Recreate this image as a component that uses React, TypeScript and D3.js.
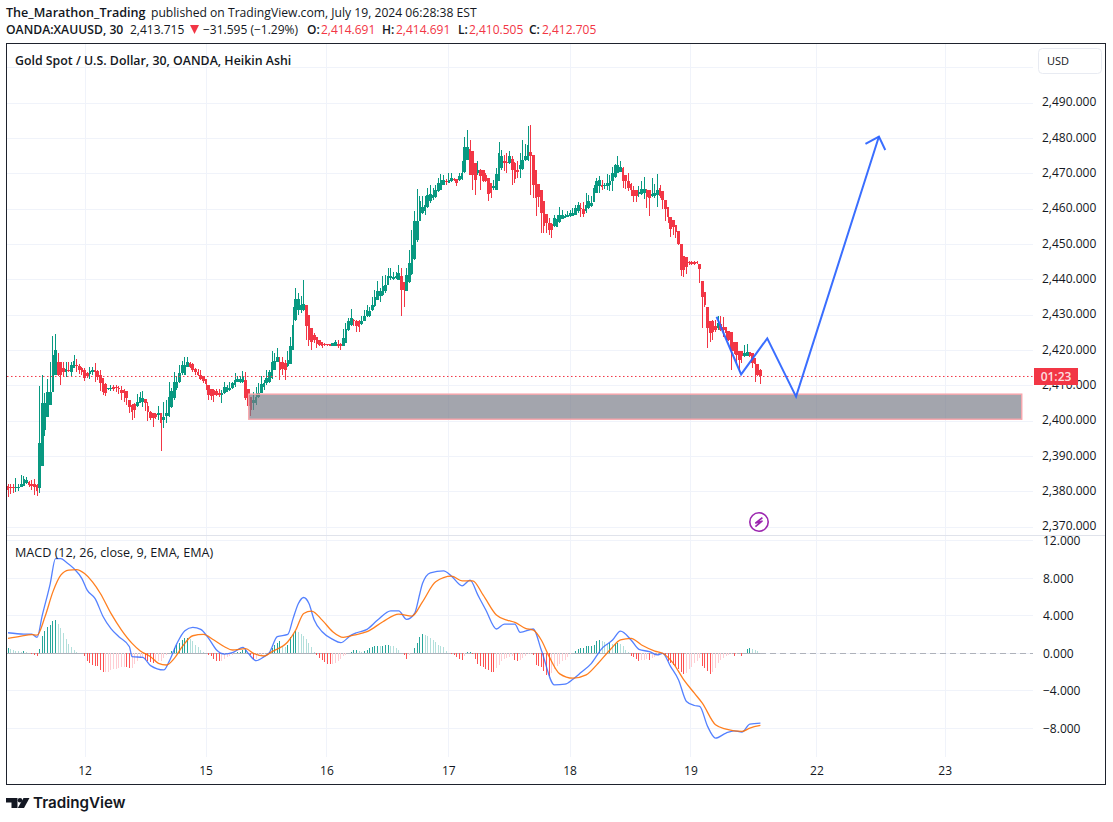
import React from "react";
import * as d3 from "d3";

type Bar = [number, number, number, number]; // open, high, low, close

const session11: Bar[] = [
[2381.4,2381.9,2378.3,2380.2],[2380.9,2381.9,2379.0,2380.7],[2380.9,2381.9,2379.2,2380.7],[2380.8,2383.7,2379.7,2381.1],[2380.8,2382,2379.9,2381],[2381.1,2384.4,2381.1,2382],[2381.4,2384.1,2381.4,2383.2],[2382.2,2383.9,2382,2383],[2382.5,2382.8,2381.1,2381.6],[2382,2383,2380.2,2381.4],[2381.9,2383.2,2378.7,2381.1],[2381.6,2382,2378.5,2379.9],
[2380.6,2409.6,2379.2,2393.4],[2387,2412.7,2387,2404.7],[2397.1,2407.5,2395.4,2404.7],[2400.9,2411.5,2400.9,2408],[2404.2,2416.5,2404.2,2408],[2408,2423.8,2408,2418.4],[2412.7,2424.3,2412.7,2419.8],[2416.3,2418.9,2412.3,2412.7],[2416.3,2416.5,2409.9,2412.7],[2414.6,2416.5,2412.1,2413.7],[2413.7,2416.5,2412.1,2414.3],[2414.1,2416.5,2413.7,2413.9],[2413.7,2416.5,2412.4,2415.6],[2414.6,2418.4,2414.6,2416.7],[2415.6,2417.2,2413.7,2415.3],[2415.3,2415.8,2413,2414.1],[2414.8,2415.1,2412.7,2413.7],
];
const session12: Bar[] = [
[2414.1,2414.6,2411,2412],[2413.2,2413.7,2411.8,2412.3],[2412.9,2415.1,2411.5,2413.9],[2413.5,2415.1,2412.7,2414],[2414,2416.2,2410.8,2413.5],[2413.9,2414.1,2411.3,2412.1],[2412.7,2414.1,2408.2,2410.4],[2411.8,2411.8,2407.1,2408],[2410.2,2410.4,2406.8,2407.7],[2408.7,2409,2408.5,2408.9],[2408.7,2409.9,2408.3,2408.9],[2409.2,2409.8,2408.1,2408.7],[2409.2,2409.9,2408,2408.9],[2409,2409.6,2407.3,2408.7],[2408.5,2409.6,2405.6,2407.7],[2408.5,2408.7,2405.2,2407.5],[2408.1,2408.3,2404.2,2406.1],[2405.6,2405.6,2401.9,2403.6],[2404.2,2404.5,2400,2402.3],[2404.4,2404.7,2400.5,2402.8],[2403.9,2407.3,2403.8,2405.2],[2404.9,2408,2404.7,2406.4],[2405.2,2408.2,2403.8,2406.1],[2405.8,2405.8,2402.6,2404.7],[2403.9,2405.2,2399.7,2402.3],[2402.3,2402.6,2400,2400.5],[2401.9,2402.1,2398.1,2400.6],[2401.6,2401.9,2400.3,2400.9],[2401.4,2403.9,2400,2401.9],[2401.9,2401.9,2391.2,2399],[2400,2405.2,2397.6,2400.9],[2401.1,2405.6,2399,2402.1],[2401.1,2410.7,2400.9,2406.4],[2403.6,2408.9,2403.3,2408.3],[2406.1,2413.7,2405.6,2410.8],[2408.9,2412.3,2408.5,2410.8],[2410.8,2415.6,2410.4,2413.2],[2413.2,2416.8,2412.7,2415.6],[2412.7,2417.9,2412.7,2415.6],[2415.1,2417.9,2415.1,2416.3],[2416,2416.5,2414.6,2415.1],[2415.7,2416,2413.7,2414.1],[2414.3,2414.6,2412.7,2413.7],[2413.7,2414.3,2412.3,2412.7],[2412.7,2414.1,2411.3,2411.5],[2412.3,2412.4,2410.4,2411.1],
];
const session15: Bar[] = [
[2411.5,2411.5,2408.5,2410.2],[2409.9,2409.9,2405.6,2407.1],[2408.7,2408.7,2405.6,2406.8],[2408.5,2408.7,2405.2,2407.1],[2408.3,2408.7,2406.8,2407],[2407.7,2408.7,2406.6,2407.1],[2407,2408.5,2404.9,2407.7],[2407.5,2410.6,2407.3,2409.2],[2408,2409.9,2408,2409.2],[2408.5,2410.6,2408.3,2409],[2408.9,2410.8,2408.7,2410.4],[2409.9,2413.4,2409.4,2411.3],[2410.7,2412.3,2410.6,2411.5],[2410.8,2412.3,2410.4,2411.5],[2410.8,2413.9,2410.4,2412.3],[2411.3,2413.7,2405.6,2406.1],[2408.7,2408.7,2402.8,2403.9],[2406.4,2406.6,2401.1,2402.8],[2404.7,2408,2402.8,2405.6],[2404.7,2409.4,2404.2,2406.6],[2406.4,2410.4,2406.1,2407.7],[2407.7,2412.4,2407.5,2410.2],[2409.4,2411.3,2408.5,2410.4],[2410.4,2414.1,2409.9,2411.8],[2410.6,2414.1,2410.4,2413.7],[2411.8,2419.6,2411.5,2416.5],[2414.1,2418.9,2414.1,2416.8],[2416.5,2420.3,2416.5,2417.7],[2416.5,2417.9,2411.3,2414.1],[2416.5,2417.9,2412.7,2414.3],[2416,2417,2411.3,2414.1],[2415.3,2419.4,2415,2417],[2415.8,2423.6,2415.8,2420.8],[2419.9,2432.1,2419.9,2426.9],[2428.4,2437.3,2428.1,2434.2],[2431,2435.9,2429.8,2434.2],[2431,2435,2430.4,2432.6],[2431.2,2439.7,2430.7,2432.8],[2432.6,2432.6,2422.7,2426.7],[2429.8,2429.8,2420.8,2422.7],[2426,2426,2419.9,2422.2],[2424.1,2424.6,2421.8,2422.7],[2423.5,2423.5,2420.3,2421.6],[2422.5,2422.7,2420.8,2421.3],[2422.2,2422.2,2420.5,2421],[2421.5,2421.9,2421,2421.3],
];
const session16: Bar[] = [
[2421.5,2421.6,2421,2421.2],[2421.5,2421.5,2420.8,2420.8],[2421,2421.9,2420.8,2421.7],[2421,2422.7,2420.8,2422.2],[2421.5,2422.7,2420.3,2421],[2421.5,2421.9,2419.9,2421],[2420.8,2425.7,2420.8,2423.1],[2421.9,2427.4,2421.9,2425.7],[2425.5,2428.8,2425.3,2427.9],[2426.9,2431.4,2426.6,2428.8],[2428.4,2428.5,2426.5,2427.9],[2428.1,2428.4,2425,2426.6],[2427.9,2428.4,2424.8,2426.3],[2427.1,2429.3,2426.9,2428.1],[2428.1,2431.2,2427.9,2429.5],[2429.3,2432.6,2429.1,2431],[2429.3,2432.1,2429.1,2430.7],[2431,2434.7,2430.7,2432.6],[2432.3,2436.8,2431.9,2434.7],[2434,2439.2,2434,2436.4],[2435,2437.3,2433.5,2436.6],[2435.4,2440.6,2435,2438],[2436.4,2441.1,2435.9,2438.2],[2438.2,2443,2438.2,2440.8],[2440.1,2443,2439.7,2440.8],[2439.9,2442,2439.7,2440.4],[2440.1,2441.8,2439.9,2440.6],[2439.7,2443.9,2439.7,2441.6],[2440.8,2443,2429.3,2436.8],[2439,2439,2431.9,2436.8],[2436.6,2443,2436.4,2441.1],[2438.9,2448,2438.7,2444.4],[2441.4,2453.8,2441.1,2449.6],[2445.5,2459,2445.3,2456.4],[2450.8,2465.3,2450.5,2456.4],[2456.2,2463.5,2456.2,2461.9],[2458.7,2463.3,2458.4,2460.4],[2459,2463.5,2458.1,2460.9],[2460.2,2465.6,2460,2463.7],[2461.9,2466.6,2461.4,2464],[2462.8,2465.6,2462.3,2463.7],[2463,2466.6,2462.8,2465.2],[2464.7,2468.5,2464.5,2467],[2465.2,2469.7,2465,2468],[2466.6,2469.4,2466.4,2468],[2467.7,2468.2,2466.6,2467.3],
];
const session17: Bar[] = [
[2467.2,2469.9,2467,2468],[2467.5,2469.9,2467.3,2468.5],[2468.2,2468.5,2467.5,2467.8],[2468.2,2468.2,2466.1,2467.2],[2468,2469.9,2467.5,2469.1],[2468.1,2473.2,2467.8,2470],[2470.1,2480.1,2469.9,2477.2],[2473.7,2482.1,2473.7,2477.2],[2476.7,2479.3,2469.4,2469.4],[2476.2,2476.2,2465,2469.4],[2472.7,2472.7,2463.7,2468],[2469.9,2473.2,2469.4,2470.8],[2470.8,2471,2465.2,2469.1],[2470.6,2470.8,2467.3,2467.5],[2469.4,2469.9,2467.3,2467.5],[2468.5,2468.5,2461.9,2464],[2467,2467,2462.8,2464.2],[2465.6,2467.8,2465.2,2466.1],[2465.2,2471.3,2465.2,2469.7],[2467.5,2478.6,2467.5,2475.5],[2471.3,2476.5,2470.8,2474.6],[2473.2,2475.1,2470.4,2472.7],[2473,2475.5,2469.9,2472.7],[2472.7,2476,2472.5,2474.8],[2473.8,2474.8,2466.6,2470.8],[2472.7,2472.9,2467,2468.2],[2470.8,2473.2,2468.5,2470.3],[2471,2475.5,2468.5,2472.2],[2471.1,2479.3,2470.8,2473.7],[2473.5,2478.2,2473.2,2474.8],[2473.5,2483.3,2473.2,2477.9],[2475.7,2483.6,2463.7,2474.6],[2475.1,2475.1,2462.8,2466.6],[2470.8,2470.8,2457.8,2462.8],[2466.9,2466.9,2460.2,2463.1],[2465.2,2465.2,2452.9,2458.5],[2462,2462,2453,2454.8],[2458.4,2458.4,2452.9,2455.7],[2455.7,2457.1,2452.4,2453.8],[2455.5,2455.7,2451.5,2453.8],[2454.8,2458.1,2454.6,2457.1],[2454.6,2458.1,2454.6,2456.8],[2455.9,2460.4,2455.7,2458.1],[2456.8,2459.5,2456.8,2458.1],[2457.1,2458.3,2457.1,2457.8],[2457.4,2459,2457.4,2458.1],
];
const session18: Bar[] = [
[2457.6,2459.5,2457.4,2458.5],[2457.8,2459.9,2457.6,2458.7],[2458.1,2460.9,2458.1,2460],[2459,2461.8,2458.7,2460.9],[2460,2461.4,2457.4,2459.7],[2459.8,2461.8,2457.4,2458.3],[2459,2464.2,2458.7,2460.9],[2459.9,2463.7,2459.8,2462],[2460.6,2463.3,2460.4,2461.5],[2461.8,2466.6,2461.6,2465.6],[2464.2,2468.4,2464.2,2467.5],[2466.1,2468.9,2464.2,2467.8],[2466.6,2468,2465,2465.9],[2466.1,2467.2,2465.3,2466.6],[2466.1,2469.7,2465.1,2467.2],[2466.6,2469.4,2464.9,2467.5],[2467.5,2471.7,2464.7,2469.9],[2468.7,2472.5,2468.6,2472.2],[2470,2474.8,2469.9,2472.2],[2470.3,2473.4,2470.3,2471.7],[2471.3,2471.5,2465.6,2467.5],[2469.4,2469.4,2465.3,2467.5],[2467.5,2469.9,2464.7,2465.6],[2466.8,2467,2463.3,2465.1],[2465.1,2466.1,2461.6,2463.5],[2465.1,2465.1,2461.8,2463.5],[2464,2466.1,2463.1,2464.4],[2464,2467.5,2463.7,2465.3],[2464.2,2468.7,2462.5,2465.3],[2465.1,2465.3,2460,2463.1],[2465.1,2465.1,2457.6,2462.8],[2463.3,2468.4,2463.1,2464],[2463.4,2466.8,2462.8,2464.2],[2463.7,2469.6,2460.4,2465.1],[2465.6,2466.6,2462.8,2463.3],[2464.7,2464.7,2459.7,2462.3],[2462.3,2462.3,2456.2,2459.7],[2460.2,2460.4,2455.7,2457.4],[2457.4,2457.4,2451.7,2454],[2456.6,2456.6,2452.4,2454.6],[2455.2,2455.2,2451.4,2453.3],[2453.6,2453.6,2449.6,2449.8],[2449.8,2449.8,2440.8,2442.3],[2446.3,2446.3,2440.4,2442.3],[2446,2446,2441.3,2443.4],[2444.7,2445,2443.8,2444.4],
];
const session19: Bar[] = [
[2444.7,2444.9,2443.9,2444.2],[2444.6,2445.1,2443.8,2444.2],[2444.6,2444.9,2444.1,2444.3],[2444.2,2444.2,2438.7,2442.7],[2439.2,2439.2,2426,2434.9],[2436.2,2436.2,2432,2432.6],[2431.9,2431.9,2420.3,2426],[2428.1,2428.1,2422.2,2424.5],[2427.9,2428.3,2422.7,2425],[2426.6,2428.3,2424.9,2425.5],[2426,2429.5,2425.5,2427.4],[2427.2,2429.3,2425.3,2425.5],[2426.4,2429.1,2423.6,2425.5],[2426.2,2426.4,2422.7,2424.7],[2425.3,2425.3,2422.3,2422.7],[2425,2425,2414.2,2419.4],[2422.2,2422.2,2418.6,2419.4],[2422.2,2422.2,2416,2418.4],[2419.6,2419.6,2413.7,2417],[2419.6,2419.6,2416,2418],[2418,2421.2,2417.8,2418.9],[2418.1,2421.5,2418,2419.1],[2419.2,2419.2,2417.9,2418.1],[2418.9,2418.9,2414.6,2416],[2417.5,2417.5,2410.6,2415.9],[2415.9,2415.9,2412.5,2412.7],[2414.2,2414.4,2410.2,2412.5],
];

// MACD line (bar number, value)
const macdBarsA = [0,6,9,11,13,16,18,20,22,25,28,30,33,36,39,42,46,47,51,54,59,61,64,67,70,73,76,79,82,85,89,91,94,97,99,102,106,108,110,112,114,116,119,123,126,130,132,136,140,145,148,151,154,156,157,160,165,168,172,175,178,181,185,188,192,194,199,202,207,211,214,217,221,225,229,232,236,239,243,246,248,251,254,257,260,262,265,268,272,275,278,281,285];
const macdValues = [2.16,2.02,2.02,1.67,4.04,7.41,10.07,10.07,9.7,9,7.94,6.7,5.8,3.9,2.6,1.74,0.67,-0.39,-0.46,-1.35,-1.81,-0.92,1.03,2.37,2.73,2.52,1.56,0.32,-0.11,0.03,0.6,-0.04,-0.82,-0.39,0.03,1.74,1.98,3.69,5.28,5.92,5.28,3.51,2.27,1.45,1.1,1.91,2.16,2.52,3.51,4.5,4.5,3.58,4.22,6.35,7.41,8.55,8.76,8.19,7.17,7.77,6.17,4.58,2.56,3.09,3.09,2.2,2.56,0.32,-3.4,-3.33,-2.8,-2.09,-1.1,0.5,1.39,2.34,1.39,0.39,0.14,-0.21,-0.03,-1.45,-2.87,-5.17,-5.6,-5.7,-7.83,-9.08,-8.54,-8.3,-8.44,-7.59,-7.48];
// Signal line (bar number, value)
const signalBars = [0,5,9,11,14,17,20,23,26,29,32,35,39,43,47,50,54,57,60,63,66,70,74,78,82,85,90,93,97,100,106,109,112,115,119,123,127,131,136,142,148,153,157,162,168,172,176,180,185,189,192,196,199,202,205,209,214,219,223,228,232,236,240,245,248,252,256,260,263,268,272,278,281,285];
const signalValues = [1.56,1.81,1.95,1.91,3.86,6.52,8.3,8.83,8.9,8.47,7.59,6.35,4.22,2.45,1.03,0.25,-0.39,-1.1,-1.28,-0.57,0.67,1.84,1.98,1.38,0.67,0.32,0.46,-0.04,-0.32,0.14,1.2,2.45,4.22,4.47,3.51,2.27,1.67,1.91,2.27,3.33,4.15,3.94,5.46,7.59,8.19,7.7,7.7,6.17,4.05,3.51,3.27,2.63,2.45,1.39,-0.39,-2.23,-2.69,-2.34,-1.27,0.32,1.39,1.56,0.85,0.21,-0.03,-1.1,-2.87,-4.29,-5.35,-7.66,-8.12,-8.37,-8.01,-7.73];
const histogram = [
0.53,0.43,0.35,0.2,0.18,0.15,0.25,0.1,-0.05,-0.1,-0.2,-0.35,0.43,1.84,2.3,2.77,3,3.44,3.55,3.1,2.66,2.1,1.5,1,0.64,0.35,0.15,0.05,0,-0.3,-0.8,-1.05,-1.25,-1.35,-1.4,-1.85,-2.05,-2.05,-2,-1.85,-1.75,-1.7,-1.6,-1.5,-1.45,-1.5,-1.6,-1.55,-1.15,-0.9,-0.55,-0.45,-0.7,-0.9,-1,-1.05,-1,-0.9,-0.8,-0.5,-0.2,0,0.2,0.53,0.9,1.06,1.4,1.6,1.6,1.5,1.25,0.9,0.64,0.35,0.15,0.05,-0.25,-0.35,-0.65,-0.8,-0.9,-0.8,-0.65,-0.45,-0.3,-0.2,0.05,0.1,0.15,0.3,0.35,0,-0.2,-0.65,-0.65,-0.35,-0.2,-0.1,0,0.1,0.5,0.9,1.1,1.25,0.8,0.65,0.9,1.75,2.05,2.3,2.2,2,1.85,1.5,1.05,0.65,0.07,-0.2,-0.5,-0.7,-0.95,-1.15,-1.2,-1.15,-1.05,-0.9,-0.65,-0.35,-0.2,0,0.15,0.3,0.35,0.2,0.1,0.25,0.35,0.5,0.65,0.8,0.8,0.7,0.8,0.9,0.9,0.8,0.7,0.55,0.35,0,-0.2,-0.6,-0.2,0,0.5,1.05,1.7,2.05,1.9,1.77,1.6,1.4,1.15,0.9,0.8,0.6,0.25,0.05,-0.07,-0.2,-0.45,-0.65,-0.7,-0.35,0.1,0.1,-0.1,-0.65,-1.15,-1.4,-1.5,-1.7,-1.85,-2,-2.05,-1.6,-1.25,-0.8,-0.65,-0.55,-0.45,-0.3,-0.7,-0.8,-0.7,-0.5,-0.35,-0.1,-0.07,-0.2,-1.25,-1.4,-1.5,-1.95,-2.3,-2.5,-2.1,-1.7,-1.4,-1.15,-0.9,-0.7,-0.4,-0.15,0,0.25,0.4,0.5,0.55,0.7,0.7,0.8,0.9,1.25,1.35,1.25,1.15,1,1.05,0.95,0.95,1.05,0.95,0.7,0.35,0.1,-0.3,-0.45,-0.65,-0.8,-0.7,-0.7,-0.65,-0.7,-0.55,-0.4,-0.25,-0.1,-0.1,-0.2,-0.8,-1.05,-1.25,-1.4,-1.75,-2.05,-2.25,-2.1,-1.7,-1.5,-1.05,-0.9,-0.55,-1.4,-1.6,-1.95,-2.2,-2.05,-1.6,-1.05,-0.7,-0.55,-0.35,-0.2,-0.1,-0.3,-0.15,-0.05,-0.3,0.05,0.4,0.5,0.4,0.35,0.25,
];

const priceTicks = [2490,2480,2470,2460,2450,2440,2430,2420,2410,2400,2390,2380,2370];
const priceGridOnly = [2500];
const macdTicks = [12,8,4,0,-4,-8];
const dayBars = [29.2,75,120.8,167,212.9,258.7,306.4,355];
const dayLabels = ["12","15","16","17","18","19","22","23"];
const forecastBars = [268.4,277.7,287.6,298.5,329.9];
const forecastPrices = [2429.5,2413.2,2423.4,2406.9,2480.5];
const arrowBars = [324.8,329.9,332.3];
const arrowPrices = [2478.4,2480.5,2476.7];
const zoneBars = [91.2,384];
const zonePrices = [2407.6,2400.5];
const lastPrice = 2412.6;
const READ_BIAS = 0.3; // my readings of the picture run a third of a dollar low

const RED = "#f23645";
const GREEN = "#089981";
const GRID = "#f0f3fa";
const TEXT = "#131722";
const FONT = "'Open Sans', 'Noto Sans', sans-serif";

const x = d3.scaleLinear().domain([0, 100]).range([8, 272]);
const y = d3.scaleLinear().domain([2400, 2490]).range([421, 103]);
const m = d3.scaleLinear().domain([0, 8]).range([653, 578]);
const bars = [session11, session12, session15, session16, session17, session18, session19].flat();
const fmt = d3.format(",.3f");

const macdPath = d3.line<number>().x((_, i) => x(macdBarsA[i])).y((v) => m(v)).curve(d3.curveMonotoneX)(macdValues)!;
const signalPath = d3.line<number>().x((_, i) => x(signalBars[i])).y((v) => m(v)).curve(d3.curveMonotoneX)(signalValues)!;
const forecastPath = d3.line<number>().x((_, i) => x(forecastBars[i])).y((v) => y(v))(forecastPrices)!;
const arrowPath = d3.line<number>().x((_, i) => x(arrowBars[i])).y((v) => y(v))(arrowPrices)!;

function histColor(v: number, i: number) {
  const p = i > 0 ? histogram[i - 1] : 0;
  if (v >= 0) return v >= p ? "#26a69a" : "#b2dfdb";
  return v < p ? "#ff5252" : "#ffcdd2";
}

export default function App() {
  return (
    <svg width={1113} height={822} style={{ position: "absolute", left: 0, top: 0, background: "#fff" }} fontFamily={FONT}>
      <defs>
        <clipPath id="top"><rect x={7} y={44} width={1026} height={491} /></clipPath>
        <clipPath id="bot"><rect x={7} y={536} width={1026} height={222} /></clipPath>
      </defs>

      {/* header */}
      <g fill={TEXT}>
        <text x={6} y={17} fontSize={12.6} fontWeight={600}>The_Marathon_Trading</text>
        <text x={151} y={17} fontSize={12.15}>published on TradingView.com, July 19, 2024 06:28:38 EST</text>
      </g>
      <g fontSize={12} fill={TEXT}>
        <text x={6} y={34} fontWeight={600} fontSize={12.2}>OANDA:XAUUSD, 30</text>
        <text x={130} y={34}>2,413.715</text>
        <path d="M190,25 h9 l-4.5,9 z" fill={RED} />
        <text x={203} y={34}>−31.595 (−1.29%)</text>
        <text x={307} y={34} fontWeight={600}>O:</text>
        <text x={321} y={34} fill={RED}>2,414.691</text>
        <text x={382} y={34} fontWeight={600}>H:</text>
        <text x={396} y={34} fill={RED}>2,414.691</text>
        <text x={458} y={34} fontWeight={600}>L:</text>
        <text x={469} y={34} fill={RED}>2,410.505</text>
        <text x={529} y={34} fontWeight={600}>C:</text>
        <text x={542} y={34} fill={RED}>2,412.705</text>
      </g>

      {/* grids */}
      <g stroke={GRID} strokeWidth={1} shapeRendering="crispEdges">
        {dayBars.map((b) => <line key={b} x1={x(b)} x2={x(b)} y1={44} y2={757} />)}
        {[...priceGridOnly, ...priceTicks].map((p) => <line key={p} x1={7} x2={1033} y1={y(p)} y2={y(p)} />)}
        {macdTicks.map((t) => <line key={t} x1={7} x2={1033} y1={m(t)} y2={m(t)} />)}
      </g>
      <line x1={7} x2={1106} y1={535.5} y2={535.5} stroke="#e0e3eb" />

      {/* candles */}
      <g clipPath="url(#top)" shapeRendering="crispEdges">
        {bars.map(([o, h, l, c], i) => {
          const X = x(i);
          const col = c >= o ? GREEN : RED;
          const yo = y(o + READ_BIAS), yc = y(c + READ_BIAS);
          const left = Math.round(X - 1.32);
          const top = Math.round(Math.min(yo, yc));
          return (
            <g key={i} fill={col}>
              <rect x={Math.round(X - 0.5)} width={1} y={y(h + READ_BIAS)} height={Math.max(1, y(l + READ_BIAS) - y(h + READ_BIAS))} />
              <rect x={left} width={Math.round(X + 1.32) - left} y={top} height={Math.max(1, Math.round(Math.max(yo, yc)) - top)} />
            </g>
          );
        })}
      </g>

      {/* price line */}
      <line x1={7} x2={1034} y1={y(lastPrice)} y2={y(lastPrice)} stroke={RED} strokeWidth={1} strokeDasharray="1.5 2.5" />

      {/* zone */}
      <rect x={x(zoneBars[0])} y={y(zonePrices[0])} width={x(zoneBars[1]) - x(zoneBars[0])} height={y(zonePrices[1]) - y(zonePrices[0])}
        fill="#787b86" fillOpacity={0.68} stroke="#f9a6ac" strokeWidth={1.4} />

      {/* forecast */}
      <path d={forecastPath} fill="none" stroke="#2962ff" strokeWidth={2} opacity={0.92} />
      <path d={arrowPath} fill="none" stroke="#2962ff" strokeWidth={2} opacity={0.92} />

      {/* icon */}
      <circle cx={759} cy={522} r={9.2} fill="#fff" stroke="#9c27b0" strokeWidth={1.6} />
      <path d="M762.4,517.6 L755.8,523 L762,521.2 L755.4,526.6" fill="none" stroke="#9c27b0" strokeWidth={1.7} strokeLinejoin="round" />

      {/* MACD */}
      <g clipPath="url(#bot)">
        <line x1={x(285)} x2={1033} y1={m(0)} y2={m(0)} stroke="#787b86" strokeOpacity={0.55} strokeDasharray="6 4" shapeRendering="crispEdges" />
        <line x1={7} x2={x(285)} y1={m(0)} y2={m(0)} stroke="#787b86" strokeOpacity={0.55} shapeRendering="crispEdges" />
        <g shapeRendering="crispEdges">
          {histogram.map((v, i) => (
            <rect key={i} x={Math.round(x(i) - 0.5)} width={1} y={Math.min(m(v), m(0))} height={Math.abs(m(v) - m(0))} fill={histColor(v, i)} />
          ))}
        </g>
        <path d={macdPath} fill="none" stroke="#2962ff" strokeWidth={1.3} opacity={0.8} />
        <path d={signalPath} fill="none" stroke="#ff6d00" strokeWidth={1.3} opacity={0.88} />
      </g>

      {/* legends */}
      <text x={15} y={65} fontSize={12.35} fontWeight={600} fill={TEXT}>Gold Spot / U.S. Dollar, 30, OANDA, Heikin Ashi</text>
      <text x={15} y={557} fontSize={12.6} fill={TEXT}>MACD (12, 26, close, 9, EMA, EMA)</text>

      {/* axes */}
      <g fontSize={12} fill={TEXT}>
        {priceTicks.map((p) => <text key={p} x={1042} y={y(p) + 3.2}>{fmt(p)}</text>)}
        {macdTicks.map((t) => <text key={t} x={1043} y={m(t) + 4.5}>{t < 0 ? "−" + d3.format(".3f")(-t) : d3.format(".3f")(t)}</text>)}
        {dayLabels.map((d, i) => <text key={d} x={x(dayBars[i])} y={775} textAnchor="middle">{d}</text>)}
      </g>
      <rect x={1034} y={368} width={44} height={17} fill={RED} />
      <text x={1056} y={381} textAnchor="middle" fontSize={12} fontWeight={600} fill="#fff" fillOpacity={0.85}>01:23</text>
      <rect x={1038.5} y={48.5} width={63} height={25} rx={4} fill="#fff" stroke="#e8ebf2" />
      <text x={1047} y={65} fontSize={11} fill={TEXT}>USD</text>

      {/* frame */}
      <rect x={6.5} y={43.5} width={1099} height={741} fill="none" stroke="#1e222d" strokeWidth={1} />

      {/* logo */}
      <g fill="#131722">
        <path d="M6,798 H17.5 V808 H11.5 V802.5 H6 Z" />
        <circle cx={20} cy={800.2} r={2.3} />
        <path d="M23.5,798 H29.5 L24,808 H17.8 Z" />
        <text x={33} y={808.3} fontSize={15.2} fontWeight={600} fontFamily="Inter, 'Open Sans', sans-serif">TradingView</text>
      </g>
    </svg>
  );
}
